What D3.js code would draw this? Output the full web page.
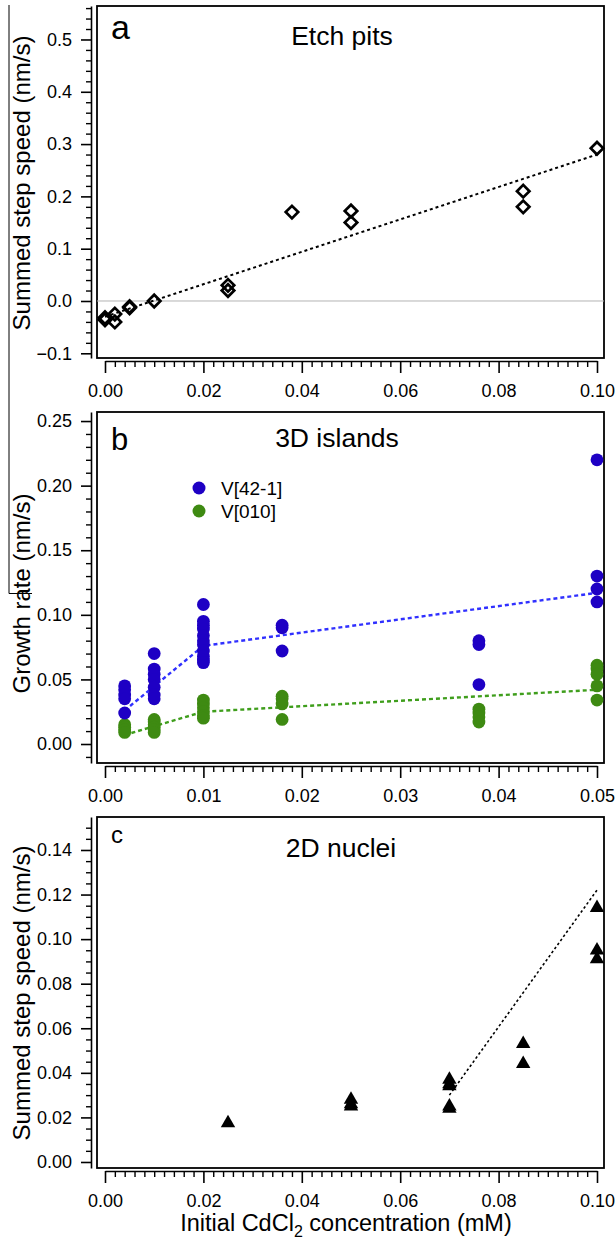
<!DOCTYPE html>
<html>
<head>
<meta charset="utf-8">
<script src="https://cdn.jsdelivr.net/npm/d3@7"></script>
<style>
  body { margin: 0; background: #fff; }
  svg { display: block; }
  text { font-family: "Liberation Sans", Arial, sans-serif; fill: #000; }
</style>
</head>
<body>
<script>
// ---- Panel a: etch pits ----
const etchConc  = [0.000, 0.000, 0.002, 0.002, 0.005, 0.005, 0.010, 0.025, 0.025, 0.038, 0.050, 0.050, 0.085, 0.085, 0.100];
const etchSpeed = [-0.036, -0.032, -0.025, -0.040, -0.013, -0.011, 0.000, 0.030, 0.020, 0.170, 0.172, 0.150, 0.210, 0.180, 0.292];
const etchFitConc  = [0.000, 0.100];
const etchFitSpeed = [-0.030, 0.280];
const etchYTicks = [-0.1, 0.0, 0.1, 0.2, 0.3, 0.4, 0.5];
const etchXTicks = [0.00, 0.02, 0.04, 0.06, 0.08, 0.10];

// ---- Panel b: 3D islands ----
const islandConc42 = [0.002, 0.002, 0.002, 0.002, 0.002,
  0.005, 0.005, 0.005, 0.005, 0.005, 0.005, 0.005,
  0.010, 0.010, 0.010, 0.010, 0.010, 0.010, 0.010, 0.010, 0.010, 0.010, 0.010,
  0.018, 0.018, 0.018,
  0.038, 0.038, 0.038,
  0.050, 0.050, 0.050, 0.050];
const islandRate42 = [0.045, 0.042, 0.038, 0.035, 0.024,
  0.070, 0.058, 0.054, 0.050, 0.044, 0.038, 0.035,
  0.108, 0.095, 0.092, 0.089, 0.084, 0.080, 0.077, 0.072, 0.068, 0.065, 0.063,
  0.092, 0.090, 0.072,
  0.080, 0.077, 0.046,
  0.220, 0.130, 0.120, 0.110];
const islandConc010 = [0.002, 0.002, 0.002, 0.002,
  0.005, 0.005, 0.005, 0.005, 0.005, 0.005,
  0.010, 0.010, 0.010, 0.010, 0.010, 0.010,
  0.018, 0.018, 0.018, 0.018,
  0.038, 0.038, 0.038, 0.038,
  0.050, 0.050, 0.050, 0.050, 0.050];
const islandRate010 = [0.015, 0.013, 0.011, 0.009,
  0.019, 0.017, 0.015, 0.013, 0.011, 0.009,
  0.034, 0.031, 0.028, 0.025, 0.022, 0.020,
  0.037, 0.035, 0.031, 0.019,
  0.027, 0.024, 0.021, 0.017,
  0.061, 0.058, 0.054, 0.045, 0.034];
const islandFitConc = [0.002, 0.010, 0.050];
const islandFit42   = [0.026, 0.076, 0.117];
const islandFit010  = [0.007, 0.025, 0.042];
const islandSeries  = ["V[42-1]", "V[010]"];
const islandYTicks = [0.00, 0.05, 0.10, 0.15, 0.20, 0.25];
const islandXTicks = [0.00, 0.01, 0.02, 0.03, 0.04, 0.05];

// ---- Panel c: 2D nuclei ----
const nucleiConc  = [0.025, 0.050, 0.050, 0.050, 0.070, 0.070, 0.070, 0.070, 0.070, 0.085, 0.085, 0.100, 0.100, 0.100];
const nucleiSpeed = [0.0175, 0.028, 0.026, 0.025, 0.037, 0.035, 0.034, 0.025, 0.024, 0.053, 0.044, 0.114, 0.095, 0.091];
const nucleiFitConc  = [0.070, 0.100];
const nucleiFitSpeed = [0.030, 0.122];
const nucleiYTicks = [0.00, 0.02, 0.04, 0.06, 0.08, 0.10, 0.12, 0.14];
const nucleiXTicks = [0.00, 0.02, 0.04, 0.06, 0.08, 0.10];

// ---- layout ----
const W = 616, H = 1241;
const FL = 97, FR = 604;      // plot frame left / right
const X0 = 105, X1 = 597;     // x axis span
const BLUE = "#1e00c4", BLUE_LINE = "#3030ff";
const GREEN = "#3e8a12", GREEN_LINE = "#3f9e1c";
const FONT = "Liberation Sans, Arial, sans-serif";

const svg = d3.select("body").append("svg")
  .attr("width", W).attr("height", H)
  .attr("viewBox", `0 0 ${W} ${H}`);

// thin border line at the left edge
svg.append("path")
  .attr("d", "M9,5V593.5H32")
  .attr("fill", "none").attr("stroke", "#000").attr("stroke-width", 1);

function frameAndAxes(p) {
  const g = svg.append("g");
  const x = d3.scaleLinear().domain([0, p.xMax]).range([X0, X1]);
  const y = d3.scaleLinear().domain(p.yDomain).range([p.bottom, p.top]);

  // y axis, standing off the frame (minor ticks, then majors with labels)
  const ax = FL - 6;
  g.append("g").attr("transform", `translate(${ax},0)`)
    .call(d3.axisLeft(y).tickValues(p.yMinor).tickSize(5).tickFormat(""))
    .call(s => s.select(".domain").remove())
    .call(s => s.selectAll("line").attr("stroke-width", 1.4));
  g.append("g").attr("transform", `translate(${ax},0)`)
    .call(d3.axisLeft(y).tickValues(p.yTicks).tickSize(10).tickSizeOuter(0)
      .tickPadding(9).tickFormat(d3.format(p.yFmt)))
    .call(s => s.selectAll("text").attr("font-size", 18).attr("font-family", FONT))
    .call(s => s.selectAll("line,path").attr("stroke-width", 1.6));

  // x axis, offset below the frame
  const ay = p.bottom + 3;
  g.append("g").attr("transform", `translate(0,${ay})`)
    .call(d3.axisBottom(x).tickValues(p.xMinor).tickSize(6).tickFormat(""))
    .call(s => s.select(".domain").remove())
    .call(s => s.selectAll("line").attr("stroke-width", 1.4));
  g.append("g").attr("transform", `translate(0,${ay})`)
    .call(d3.axisBottom(x).tickValues(p.xTicks).tickSize(12).tickSizeOuter(0)
      .tickPadding(11).tickFormat(d3.format(".2f")))
    .call(s => s.selectAll("text").attr("font-size", 18).attr("font-family", FONT))
    .call(s => s.selectAll("line,path").attr("stroke-width", 1.6));

  // frame
  g.append("rect")
    .attr("x", FL).attr("y", p.top)
    .attr("width", FR - FL).attr("height", p.bottom - p.top)
    .attr("fill", "none").attr("stroke", "#000").attr("stroke-width", 1.8);

  // panel letter and title
  g.append("text").attr("x", FL + 14).attr("y", p.letterY)
    .attr("font-size", p.letterSize).text(p.letter);
  g.append("text").attr("x", p.titleX).attr("y", p.titleY)
    .attr("text-anchor", "middle").attr("font-size", 26.5).text(p.title);

  // y title
  g.append("text")
    .attr("transform", `translate(30,${p.yTitleY}) rotate(-90)`)
    .attr("text-anchor", "middle").attr("font-size", 24).text(p.yTitle);

  return { g, x, y };
}

function minorTicks(lo, hi, step, majors) {
  return d3.range(Math.round(lo / step), Math.round(hi / step) + 1)
    .map(i => +(i * step).toFixed(6))
    .filter(v => !majors.some(m => Math.abs(m - v) < 1e-9));
}

// ---------- Panel a ----------
{
  const p = {
    top: 6, bottom: 358, xMax: 0.1, yDomain: [-0.109, 0.564],
    yTicks: etchYTicks, yMinor: minorTicks(-0.1, 0.56, 0.02, etchYTicks), yFmt: ".1f",
    xTicks: etchXTicks, xMinor: minorTicks(0, 0.1, 0.002, etchXTicks),
    letter: "a", letterSize: 34, letterY: 39,
    title: "Etch pits", titleX: 342, titleY: 45,
    yTitle: "Summed step speed (nm/s)", yTitleY: 183
  };
  const { g, x, y } = frameAndAxes(p);
  g.append("line")
    .attr("x1", FL).attr("x2", FR).attr("y1", y(0)).attr("y2", y(0))
    .attr("stroke", "#b4b4b4").attr("stroke-width", 1);
  g.append("path")
    .datum(d3.zip(etchFitConc, etchFitSpeed))
    .attr("d", d3.line().x(d => x(d[0])).y(d => y(d[1])))
    .attr("fill", "none").attr("stroke", "#000").attr("stroke-width", 2)
    .attr("stroke-dasharray", "3,3");
  const diamond = d3.symbol().type(d3.symbolSquare).size(78);
  g.selectAll(".etch").data(d3.zip(etchConc, etchSpeed)).join("path")
    .attr("d", diamond)
    .attr("transform", d => `translate(${x(d[0])},${y(d[1])}) rotate(45)`)
    .attr("fill", "none").attr("stroke", "#000").attr("stroke-width", 2.7);
}

// ---------- Panel b ----------
{
  const p = {
    top: 412, bottom: 763, xMax: 0.05, yDomain: [-0.0147, 0.257],
    yTicks: islandYTicks, yMinor: minorTicks(-0.01, 0.25, 0.01, islandYTicks), yFmt: ".2f",
    xTicks: islandXTicks, xMinor: minorTicks(0, 0.05, 0.001, islandXTicks),
    letter: "b", letterSize: 31, letterY: 450,
    title: "3D islands", titleX: 337, titleY: 447,
    yTitle: "Growth rate (nm/s)", yTitleY: 593.5
  };
  const { g, x, y } = frameAndAxes(p);
  const line = d3.line().x(d => x(d[0])).y(d => y(d[1]));
  g.append("path").datum(d3.zip(islandFitConc, islandFit42)).attr("d", line)
    .attr("fill", "none").attr("stroke", BLUE_LINE).attr("stroke-width", 2.4)
    .attr("stroke-dasharray", "4,3");
  g.append("path").datum(d3.zip(islandFitConc, islandFit010)).attr("d", line)
    .attr("fill", "none").attr("stroke", GREEN_LINE).attr("stroke-width", 2.4)
    .attr("stroke-dasharray", "4,3");
  g.selectAll(".v010").data(d3.zip(islandConc010, islandRate010)).join("circle")
    .attr("cx", d => x(d[0])).attr("cy", d => y(d[1])).attr("r", 6.4).attr("fill", GREEN);
  g.selectAll(".v42").data(d3.zip(islandConc42, islandRate42)).join("circle")
    .attr("cx", d => x(d[0])).attr("cy", d => y(d[1])).attr("r", 6.4).attr("fill", BLUE);

  // legend
  const lg = g.append("g").attr("transform", "translate(199,488)");
  islandSeries.forEach((name, i) => {
    lg.append("circle").attr("cx", 0).attr("cy", i * 23).attr("r", 6.5)
      .attr("fill", i === 0 ? BLUE : GREEN);
    lg.append("text").attr("x", 22).attr("y", i * 23 + 7).attr("font-size", 19).text(name);
  });
}

// ---------- Panel c ----------
{
  const p = {
    top: 817, bottom: 1168, xMax: 0.1, yDomain: [-0.0027, 0.1548],
    yTicks: nucleiYTicks, yMinor: minorTicks(0, 0.15, 0.005, nucleiYTicks), yFmt: ".2f",
    xTicks: nucleiXTicks, xMinor: minorTicks(0, 0.1, 0.002, nucleiXTicks),
    letter: "c", letterSize: 24, letterY: 843,
    title: "2D nuclei", titleX: 341, titleY: 857,
    yTitle: "Summed step speed (nm/s)", yTitleY: 993
  };
  const { g, x, y } = frameAndAxes(p);
  g.append("path")
    .datum(d3.zip(nucleiFitConc, nucleiFitSpeed))
    .attr("d", d3.line().x(d => x(d[0])).y(d => y(d[1])))
    .attr("fill", "none").attr("stroke", "#000").attr("stroke-width", 1.6)
    .attr("stroke-dasharray", "2.5,2.5");
  const tri = d3.symbol().type(d3.symbolTriangle).size(90);
  g.selectAll(".nuc").data(d3.zip(nucleiConc, nucleiSpeed)).join("path")
    .attr("d", tri)
    .attr("transform", d => `translate(${x(d[0])},${y(d[1])})`)
    .attr("fill", "#000");

  // x axis title with subscript
  const t = g.append("text").attr("x", 346).attr("y", 1231)
    .attr("text-anchor", "middle").attr("font-size", 23.5);
  t.append("tspan").text("Initial CdCl");
  t.append("tspan").attr("font-size", 16).attr("dy", 6).text("2");
  t.append("tspan").attr("dy", -6).text(" concentration (mM)");
}
</script>
</body>
</html>
